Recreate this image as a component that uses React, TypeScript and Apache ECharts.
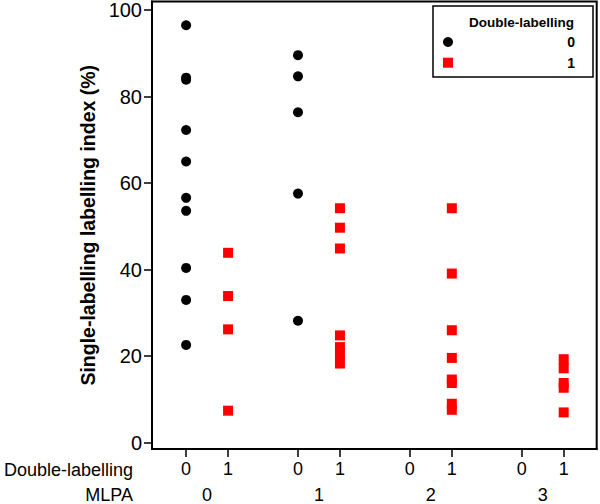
import React, { useEffect, useRef } from "react";
import * as echarts from "echarts";

// ---- Data ----
const MLPA_GROUPS = ["0", "1", "2", "3"];
const DOUBLE_LABELLING = ["0", "1"];
const Y_TICKS = [0, 20, 40, 60, 80, 100];

// Single-labelling index (%) per MLPA group, Double-labelling = 0
const DL0_VALUES: number[][] = [
  [96.5, 84.4, 83.9, 72.3, 65.0, 56.6, 53.6, 40.4, 33.0, 22.6],
  [89.6, 84.7, 76.4, 57.6, 28.2],
  [],
  [],
];
// Single-labelling index (%) per MLPA group, Double-labelling = 1
const DL1_VALUES: number[][] = [
  [43.9, 33.9, 26.2, 7.4],
  [54.2, 49.7, 44.9, 24.8, 22.1, 20.2, 18.3],
  [54.2, 39.1, 26.0, 19.6, 14.6, 13.8, 9.0, 7.6],
  [19.3, 17.2, 13.8, 12.7, 7.0],
];

// ---- Layout of the nested category axis ----
const GROUP_STEP = 8;
const DL_STEP = 3;
const FONT = "Liberation Sans";

const pos = (g: number, d: number) => g * GROUP_STEP + d * DL_STEP;

export default function App() {
  const ref = useRef<HTMLDivElement>(null);

  useEffect(() => {
    if (!ref.current) return;
    const chart = echarts.init(ref.current, null, { renderer: "svg" });

    const tickPos: number[] = [];
    const tickLab: string[] = [];
    MLPA_GROUPS.forEach((_, g) =>
      DOUBLE_LABELLING.forEach((dl, d) => {
        tickPos.push(pos(g, d));
        tickLab.push(dl);
      })
    );
    const groupPos = MLPA_GROUPS.map((_, g) => pos(g, 0) + DL_STEP / 2);

    const mk = (vals: number[][], d: number) =>
      vals.flatMap((arr, g) => arr.map((v) => [pos(g, d), v]));

    const findLabel = (positions: number[], labels: string[], v: number) => {
      const i = positions.findIndex((p) => Math.abs(p - v) < 0.01);
      return i >= 0 ? labels[i] : "";
    };

    chart.setOption({
      animation: false,
      backgroundColor: "#fff",
      textStyle: { fontFamily: FONT },
      grid: {
        left: 152,
        top: 1.5,
        right: 3.3,
        bottom: 55,
        show: true,
        borderColor: "#000",
        borderWidth: 2,
      },
      xAxis: [
        {
          type: "value",
          min: -2.44,
          max: 29.36,
          position: "bottom",
          axisLine: {
            show: true,
            onZero: false,
            lineStyle: { color: "#000", width: 2 },
          },
          axisTick: {
            show: true,
            customValues: tickPos,
            length: 8,
            lineStyle: { color: "#000", width: 1.5 },
          },
          axisLabel: {
            customValues: tickPos,
            formatter: (v: number) => findLabel(tickPos, tickLab, v),
            color: "#000",
            fontSize: 18,
            fontFamily: FONT,
            margin: 11,
          },
          splitLine: { show: false },
        },
        {
          type: "value",
          min: -2.44,
          max: 29.36,
          position: "bottom",
          axisLine: { show: false, onZero: false },
          axisTick: { show: false },
          axisLabel: {
            customValues: groupPos,
            formatter: (v: number) => findLabel(groupPos, MLPA_GROUPS, v),
            color: "#000",
            fontSize: 18,
            fontFamily: FONT,
            margin: 37,
          },
          splitLine: { show: false },
        },
      ],
      yAxis: {
        type: "value",
        min: -1.46,
        max: 102,
        name: "Single-labelling labelling index (%)",
        nameLocation: "middle",
        nameGap: 54,
        nameTextStyle: {
          fontSize: 19.5,
          fontWeight: "bold",
          color: "#000",
          fontFamily: FONT,
        },
        axisLine: {
          show: true,
          onZero: false,
          lineStyle: { color: "#000", width: 2 },
        },
        axisTick: {
          show: true,
          customValues: Y_TICKS,
          length: 8,
          lineStyle: { color: "#000", width: 1.5 },
        },
        axisLabel: {
          customValues: Y_TICKS,
          color: "#000",
          fontSize: 20,
          fontFamily: FONT,
          margin: 10,
        },
        splitLine: { show: false },
      },
      series: [
        {
          name: "0",
          type: "scatter",
          xAxisIndex: 0,
          symbol: "circle",
          symbolSize: 10,
          itemStyle: { color: "#000", opacity: 1 },
          data: mk(DL0_VALUES, 0),
        },
        {
          name: "1",
          type: "scatter",
          xAxisIndex: 0,
          symbol: "rect",
          symbolSize: 10,
          itemStyle: { color: "#ff0000", opacity: 1 },
          data: mk(DL1_VALUES, 1),
        },
      ],
      graphic: [
        {
          type: "text",
          style: {
            x: 133,
            y: 469.5,
            text: "Double-labelling",
            textAlign: "right",
            textVerticalAlign: "middle",
            fontSize: 18,
            fontFamily: FONT,
            fill: "#000",
          },
        },
        {
          type: "text",
          style: {
            x: 133,
            y: 495,
            text: "MLPA",
            textAlign: "right",
            textVerticalAlign: "middle",
            fontSize: 18,
            fontFamily: FONT,
            fill: "#000",
          },
        },
        {
          type: "rect",
          shape: { x: 433, y: 6, width: 160, height: 71 },
          style: { fill: "#fff", stroke: "#000", lineWidth: 1.5 },
          z: 10,
        },
        {
          type: "text",
          z: 11,
          style: {
            x: 574,
            y: 22,
            text: "Double-labelling",
            textAlign: "right",
            textVerticalAlign: "middle",
            fontSize: 13.5,
            fontWeight: "bold",
            fontFamily: FONT,
            fill: "#000",
          },
        },
        {
          type: "circle",
          z: 11,
          shape: { cx: 448, cy: 42, r: 5 },
          style: { fill: "#000" },
        },
        {
          type: "text",
          z: 11,
          style: {
            x: 575,
            y: 42,
            text: DOUBLE_LABELLING[0],
            textAlign: "right",
            textVerticalAlign: "middle",
            fontSize: 14,
            fontWeight: "bold",
            fontFamily: FONT,
            fill: "#000",
          },
        },
        {
          type: "rect",
          z: 11,
          shape: { x: 443, y: 57.7, width: 10, height: 10 },
          style: { fill: "#ff0000" },
        },
        {
          type: "text",
          z: 11,
          style: {
            x: 575,
            y: 63,
            text: DOUBLE_LABELLING[1],
            textAlign: "right",
            textVerticalAlign: "middle",
            fontSize: 14,
            fontWeight: "bold",
            fontFamily: FONT,
            fill: "#000",
          },
        },
      ],
    });

    return () => chart.dispose();
  }, []);

  return (
    <div
      ref={ref}
      style={{ position: "fixed", left: 0, top: 0, width: 600, height: 504 }}
    />
  );
}
